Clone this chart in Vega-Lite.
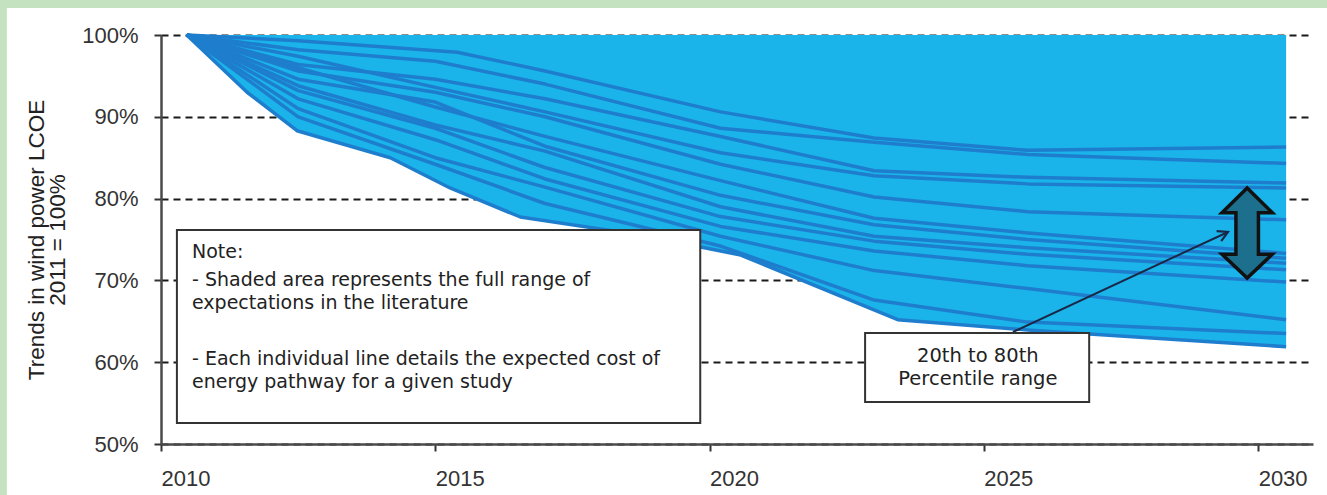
{
  "$schema": "https://vega.github.io/schema/vega-lite/v6.json",
  "width": 1152,
  "height": 409,
  "autosize": {"type": "none"},
  "padding": {"left": 161, "top": 35, "right": 14, "bottom": 51},
  "background": "white",
  "config": {
    "view": {"stroke": null},
    "axis": {
      "labelFont": "Liberation Sans",
      "labelFontSize": 22,
      "labelColor": "#333333",
      "titleFont": "Liberation Sans",
      "titleFontSize": 22.5,
      "titleFontWeight": "normal",
      "titleColor": "#222222",
      "domainColor": "#4a4a4a",
      "domainWidth": 2.5,
      "tickColor": "#333333",
      "tickWidth": 2,
      "tickSize": 7
    }
  },
  "datasets": {
    "studies": [
      {"s": "S1", "year": 2010.47, "v": 100}, {"s": "S1", "year": 2012.5, "v": 99.3}, {"s": "S1", "year": 2015.4, "v": 97.9}, {"s": "S1", "year": 2017, "v": 95.6}, {"s": "S1", "year": 2020.2, "v": 90.6}, {"s": "S1", "year": 2023, "v": 87.4}, {"s": "S1", "year": 2025.8, "v": 85.9}, {"s": "S1", "year": 2030.51, "v": 86.3},
      {"s": "S2", "year": 2010.47, "v": 100}, {"s": "S2", "year": 2012.5, "v": 98.2}, {"s": "S2", "year": 2015, "v": 96.8}, {"s": "S2", "year": 2017, "v": 94.0}, {"s": "S2", "year": 2020.2, "v": 88.6}, {"s": "S2", "year": 2023, "v": 86.9}, {"s": "S2", "year": 2025.8, "v": 85.4}, {"s": "S2", "year": 2030.51, "v": 84.3},
      {"s": "S3", "year": 2010.47, "v": 100}, {"s": "S3", "year": 2012.5, "v": 96.4}, {"s": "S3", "year": 2015, "v": 94.6}, {"s": "S3", "year": 2017, "v": 92.2}, {"s": "S3", "year": 2020.2, "v": 87.6}, {"s": "S3", "year": 2023, "v": 83.4}, {"s": "S3", "year": 2025.8, "v": 82.6}, {"s": "S3", "year": 2030.51, "v": 81.9},
      {"s": "S4", "year": 2010.47, "v": 100}, {"s": "S4", "year": 2012.5, "v": 97.4}, {"s": "S4", "year": 2015, "v": 93.6}, {"s": "S4", "year": 2017, "v": 90.6}, {"s": "S4", "year": 2020.2, "v": 85.6}, {"s": "S4", "year": 2023, "v": 82.8}, {"s": "S4", "year": 2025.8, "v": 81.8}, {"s": "S4", "year": 2030.51, "v": 81.3},
      {"s": "S5", "year": 2010.47, "v": 100}, {"s": "S5", "year": 2012.5, "v": 95.6}, {"s": "S5", "year": 2015, "v": 93.0}, {"s": "S5", "year": 2017, "v": 90.0}, {"s": "S5", "year": 2020.2, "v": 84.2}, {"s": "S5", "year": 2023, "v": 80.2}, {"s": "S5", "year": 2025.8, "v": 78.4}, {"s": "S5", "year": 2030.51, "v": 77.4},
      {"s": "S6", "year": 2010.47, "v": 100}, {"s": "S6", "year": 2012.5, "v": 96.0}, {"s": "S6", "year": 2015, "v": 91.2}, {"s": "S6", "year": 2017, "v": 87.6}, {"s": "S6", "year": 2020.2, "v": 82.2}, {"s": "S6", "year": 2023, "v": 77.6}, {"s": "S6", "year": 2025.8, "v": 75.8}, {"s": "S6", "year": 2030.51, "v": 73.3},
      {"s": "S7", "year": 2010.47, "v": 100}, {"s": "S7", "year": 2012.5, "v": 94.6}, {"s": "S7", "year": 2015, "v": 91.8}, {"s": "S7", "year": 2017, "v": 86.4}, {"s": "S7", "year": 2020.2, "v": 80.4}, {"s": "S7", "year": 2023, "v": 76.8}, {"s": "S7", "year": 2025.8, "v": 75.0}, {"s": "S7", "year": 2030.51, "v": 72.7},
      {"s": "S8", "year": 2010.47, "v": 100}, {"s": "S8", "year": 2012.5, "v": 93.8}, {"s": "S8", "year": 2015, "v": 89.0}, {"s": "S8", "year": 2017, "v": 85.8}, {"s": "S8", "year": 2020.2, "v": 79.0}, {"s": "S8", "year": 2023, "v": 75.4}, {"s": "S8", "year": 2025.8, "v": 74.0}, {"s": "S8", "year": 2030.51, "v": 72.1},
      {"s": "S9", "year": 2010.47, "v": 100}, {"s": "S9", "year": 2012.5, "v": 93.2}, {"s": "S9", "year": 2015, "v": 88.6}, {"s": "S9", "year": 2017, "v": 83.8}, {"s": "S9", "year": 2020.2, "v": 77.8}, {"s": "S9", "year": 2023, "v": 74.8}, {"s": "S9", "year": 2025.8, "v": 73.2}, {"s": "S9", "year": 2030.51, "v": 71.3},
      {"s": "S10", "year": 2010.47, "v": 100}, {"s": "S10", "year": 2012.5, "v": 92.2}, {"s": "S10", "year": 2015, "v": 87.2}, {"s": "S10", "year": 2017, "v": 82.4}, {"s": "S10", "year": 2020.2, "v": 76.6}, {"s": "S10", "year": 2023, "v": 73.6}, {"s": "S10", "year": 2025.8, "v": 71.8}, {"s": "S10", "year": 2030.51, "v": 69.8},
      {"s": "S11", "year": 2010.47, "v": 100}, {"s": "S11", "year": 2012.5, "v": 91.0}, {"s": "S11", "year": 2015, "v": 85.0}, {"s": "S11", "year": 2017, "v": 81.4}, {"s": "S11", "year": 2020.2, "v": 75.4}, {"s": "S11", "year": 2023, "v": 71.2}, {"s": "S11", "year": 2025.8, "v": 69.0}, {"s": "S11", "year": 2030.51, "v": 65.2},
      {"s": "S12", "year": 2010.47, "v": 100}, {"s": "S12", "year": 2012.5, "v": 90.0}, {"s": "S12", "year": 2015, "v": 84.2}, {"s": "S12", "year": 2017, "v": 79.4}, {"s": "S12", "year": 2020.2, "v": 74.2}, {"s": "S12", "year": 2023, "v": 67.6}, {"s": "S12", "year": 2025.8, "v": 64.9}, {"s": "S12", "year": 2030.51, "v": 63.5},
      {"s": "S13", "year": 2010.47, "v": 100}, {"s": "S13", "year": 2011.57, "v": 93.0}, {"s": "S13", "year": 2012.48, "v": 88.3}, {"s": "S13", "year": 2014.18, "v": 85.0}, {"s": "S13", "year": 2015.27, "v": 81.3}, {"s": "S13", "year": 2016.55, "v": 77.75}, {"s": "S13", "year": 2018.74, "v": 75.55}, {"s": "S13", "year": 2020.57, "v": 73.1}, {"s": "S13", "year": 2023.43, "v": 65.2}, {"s": "S13", "year": 2025.86, "v": 63.9}, {"s": "S13", "year": 2030.51, "v": 61.9}
    ],
    "one": [{}]
  },
  "layer": [
    {
      "data": {"name": "studies"},
      "transform": [{"filter": "datum.s == 'S13'"}],
      "mark": {"type": "area", "color": "#1ab4eb", "opacity": 1},
      "encoding": {
        "x": {"field": "year", "type": "quantitative", "scale": {"domain": [2010, 2031], "nice": false, "zero": false},
              "axis": {"values": [2010, 2015, 2020, 2025, 2030], "format": "d", "labelAlign": "left", "labelFlush": false, "labelPadding": 17, "grid": false, "title": null}},
        "y": {"field": "v", "type": "quantitative", "scale": {"domain": [50, 100], "nice": false, "zero": false},
              "axis": {"values": [50, 60, 70, 80, 90, 100], "labelExpr": "datum.value + '%'", "labelPadding": 16, "labelDy": 4, "grid": true, "gridDash": [7, 5], "gridColor": "#1a1a1a", "gridWidth": 2.2,
                       "title": ["Trends in wind power LCOE", "2011 = 100%"], "titlePadding": 12, "titleLineHeight": 21}},
        "y2": {"datum": 100}
      }
    },
    {
      "data": {"name": "studies"},
      "mark": {"type": "line", "color": "#1e7ecd", "strokeWidth": 3.5, "strokeJoin": "round"},
      "encoding": {
        "x": {"field": "year", "type": "quantitative"},
        "y": {"field": "v", "type": "quantitative"},
        "detail": {"field": "s", "type": "nominal"}
      }
    },
    {
      "data": {"name": "one"},
      "mark": {"type": "rect", "fill": "#c4e2c0"},
      "encoding": {
        "x": {"datum": 2006.5, "type": "quantitative"},
        "x2": {"datum": 2007.19},
        "y": {"datum": 40, "type": "quantitative"},
        "y2": {"datum": 106}
      }
    },
    {
      "data": {"name": "one"},
      "mark": {"type": "rect", "fill": "#c4e2c0"},
      "encoding": {
        "x": {"datum": 2006.5, "type": "quantitative"},
        "x2": {"datum": 2032.5},
        "y": {"datum": 103.3, "type": "quantitative"},
        "y2": {"datum": 106}
      }
    },
    {
      "data": {"name": "one"},
      "mark": {"type": "rect", "fill": "white", "stroke": "#333333", "strokeWidth": 2},
      "encoding": {
        "x": {"datum": 2010.29, "type": "quantitative"},
        "x2": {"datum": 2019.83},
        "y": {"datum": 76.16, "type": "quantitative"},
        "y2": {"datum": 52.57}
      }
    },
    {
      "data": {"name": "one"},
      "mark": {"type": "text", "text": "Note:", "align": "left", "baseline": "middle", "font": "DejaVu Sans", "fontSize": 19, "color": "#222222"},
      "encoding": {"x": {"datum": 2010.565, "type": "quantitative"}, "y": {"datum": 73.47, "type": "quantitative"}}
    },
    {
      "data": {"name": "one"},
      "mark": {"type": "text", "text": "- Shaded area represents the full range of", "align": "left", "baseline": "middle", "font": "DejaVu Sans", "fontSize": 19, "color": "#222222"},
      "encoding": {"x": {"datum": 2010.565, "type": "quantitative"}, "y": {"datum": 70.05, "type": "quantitative"}}
    },
    {
      "data": {"name": "one"},
      "mark": {"type": "text", "text": "expectations in the literature", "align": "left", "baseline": "middle", "font": "DejaVu Sans", "fontSize": 19, "color": "#222222"},
      "encoding": {"x": {"datum": 2010.565, "type": "quantitative"}, "y": {"datum": 67.24, "type": "quantitative"}}
    },
    {
      "data": {"name": "one"},
      "mark": {"type": "text", "text": "- Each individual line details the expected cost of", "align": "left", "baseline": "middle", "font": "DejaVu Sans", "fontSize": 19, "color": "#222222"},
      "encoding": {"x": {"datum": 2010.565, "type": "quantitative"}, "y": {"datum": 60.39, "type": "quantitative"}}
    },
    {
      "data": {"name": "one"},
      "mark": {"type": "text", "text": "energy pathway for a given study", "align": "left", "baseline": "middle", "font": "DejaVu Sans", "fontSize": 19, "color": "#222222"},
      "encoding": {"x": {"datum": 2010.565, "type": "quantitative"}, "y": {"datum": 57.58, "type": "quantitative"}}
    },
    {
      "data": {"name": "one"},
      "mark": {"type": "rule", "color": "#1a2848", "strokeWidth": 2},
      "encoding": {
        "x": {"datum": 2025.53, "type": "quantitative"},
        "y": {"datum": 63.69, "type": "quantitative"},
        "x2": {"datum": 2029.45},
        "y2": {"datum": 75.92}
      }
    },
    {
      "data": {"name": "one"},
      "mark": {"type": "point", "shape": "M -1 -0.55 L 0 0 L -1 0.55", "filled": false, "stroke": "#1a2848", "strokeWidth": 2.2, "size": 400, "angle": -24.9, "opacity": 1},
      "encoding": {"x": {"datum": 2029.45, "type": "quantitative"}, "y": {"datum": 75.92, "type": "quantitative"}}
    },
    {
      "data": {"name": "one"},
      "mark": {"type": "point", "shape": "M 0 -1 L 0.56 -0.45 L 0.25 -0.45 L 0.25 0.47 L 0.56 0.47 L 0 1 L -0.56 0.47 L -0.25 0.47 L -0.25 -0.45 L -0.56 -0.45 Z", "filled": true, "fill": "#1d6f8e", "stroke": "#111111", "strokeWidth": 3.5, "size": 8100, "opacity": 1},
      "encoding": {"x": {"datum": 2029.80, "type": "quantitative"}, "y": {"datum": 75.79, "type": "quantitative"}}
    },
    {
      "data": {"name": "one"},
      "mark": {"type": "rect", "fill": "white", "stroke": "#333333", "strokeWidth": 2},
      "encoding": {
        "x": {"datum": 2022.835, "type": "quantitative"},
        "x2": {"datum": 2026.92},
        "y": {"datum": 63.57, "type": "quantitative"},
        "y2": {"datum": 55.13}
      }
    },
    {
      "data": {"name": "one"},
      "mark": {"type": "text", "text": "20th to 80th", "align": "center", "baseline": "middle", "font": "DejaVu Sans", "fontSize": 19.5, "color": "#222222"},
      "encoding": {"x": {"datum": 2024.89, "type": "quantitative"}, "y": {"datum": 60.76, "type": "quantitative"}}
    },
    {
      "data": {"name": "one"},
      "mark": {"type": "text", "text": "Percentile range", "align": "center", "baseline": "middle", "font": "DejaVu Sans", "fontSize": 19.5, "color": "#222222"},
      "encoding": {"x": {"datum": 2024.89, "type": "quantitative"}, "y": {"datum": 57.95, "type": "quantitative"}}
    }
  ]
}
